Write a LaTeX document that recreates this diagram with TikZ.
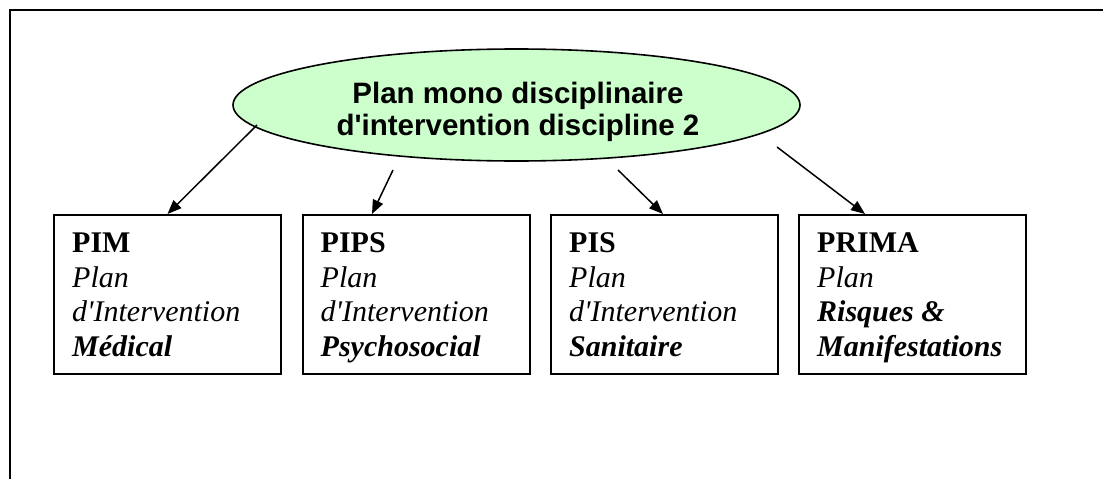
\documentclass[tikz,border=0pt]{standalone}
\usepackage{fontspec}
\setmainfont{Liberation Serif}
\newfontfamily\arialfont{Liberation Sans}
\usetikzlibrary{arrows.meta,calc,shapes.geometric}
\definecolor{ellgreen}{RGB}{204,255,204}
\begin{document}
\begin{tikzpicture}[x=1pt,y=-1pt,
  frame/.style={line width=2.5pt},
  oval/.style={ellipse, draw=black, line width=1.6pt, fill=ellgreen, minimum width=567pt, minimum height=112pt, inner sep=0pt},
  ovaltext/.style={font=\arialfont\bfseries\fontsize{29.5pt}{32pt}\selectfont, align=center, inner sep=0pt},
  planbox/.style={draw=black, line width=2pt, minimum width=227pt, minimum height=159pt, inner sep=0pt},
  boxtext/.style={anchor=base west, align=left, inner sep=0pt, font=\fontsize{30pt}{34.5pt}\selectfont},
  arr/.style={line width=1.5pt, -{Triangle[length=14pt,width=11pt]}}]
\useasboundingbox (0,0) rectangle (1103,479);
\draw[frame] (10,479) -- (10,10) -- (1103,10);
\node[oval] (e) at (516.5,105) {};
\node[ovaltext, anchor=base] (et) at (518,135) {Plan mono disciplinaire\\d\textquotesingle intervention discipline 2};
\node[planbox] (b1) at (167.5,294.5) {};
\node[planbox] (b2) at (416,294.5) {};
\node[planbox] (b3) at (664.5,294.5) {};
\node[planbox] (b4) at (912.5,294.5) {};
\node[boxtext] (t1) at ($(b1.north west)+(19,142)$) {\textbf{PIM}\\\textit{Plan}\\\textit{d\textquotesingle Intervention}\\\textbf{\textit{Médical}}};
\node[boxtext] (t2) at ($(b2.north west)+(19,142)$) {\textbf{PIPS}\\\textit{Plan}\\\textit{d\textquotesingle Intervention}\\\textbf{\textit{Psychosocial}}};
\node[boxtext] (t3) at ($(b3.north west)+(19,142)$) {\textbf{PIS}\\\textit{Plan}\\\textit{d\textquotesingle Intervention}\\\textbf{\textit{Sanitaire}}};
\node[boxtext] (t4) at ($(b4.north west)+(19,142)$) {\textbf{PRIMA}\\\textit{Plan}\\\textbf{\textit{Risques \&}}\\\textbf{\textit{Manifestations}}};
\coordinate (s1) at (257,125);
\coordinate (s2) at (393,170);
\coordinate (s3) at (618,170);
\coordinate (s4) at (777,147);
\draw[arr] (s1) -- (b1.north);
\draw[arr] (s2) -- ($(b2.north)+(-44,0)$);
\draw[arr] (s3) -- ($(b3.north)+(-1.5,0)$);
\draw[arr] (s4) -- ($(b4.north)+(-47.5,0)$);
\end{tikzpicture}
\end{document}
